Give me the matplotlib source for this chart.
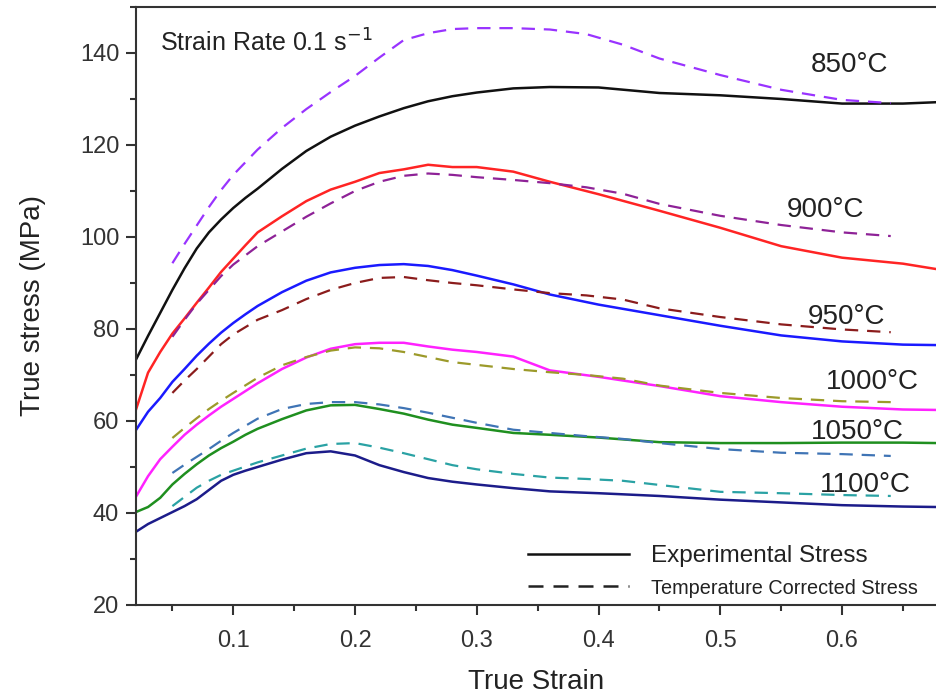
import matplotlib
matplotlib.use("Agg")
import matplotlib.pyplot as plt
from matplotlib.lines import Line2D
from matplotlib.ticker import MultipleLocator

plt.rcParams['font.family'] = ['Liberation Sans', 'DejaVu Sans']

# strain values for the experimental curves
strain_exp = [0.02, 0.03, 0.04, 0.05, 0.06, 0.07, 0.08, 0.09, 0.10, 0.11, 0.12, 0.14, 0.16, 0.18,
              0.20, 0.22, 0.24, 0.26, 0.28, 0.30, 0.33, 0.36, 0.40, 0.45, 0.50, 0.55, 0.60, 0.65, 0.678]

exp_850 = [73.3, 78.5, 83.5, 88.5, 93.2, 97.5, 101.0, 103.8, 106.3, 108.5, 110.5, 114.8, 118.7, 121.8,
           124.2, 126.2, 128.0, 129.5, 130.6, 131.4, 132.3, 132.6, 132.5, 131.3, 130.8, 130.0, 129.0, 129.0, 129.3]
exp_900 = [62.4, 70.5, 75.0, 79.0, 82.3, 85.7, 89.0, 92.4, 95.3, 98.2, 101.0, 104.5, 107.8, 110.3,
           112.0, 113.9, 114.7, 115.7, 115.2, 115.2, 114.2, 112.0, 109.3, 105.7, 102.0, 98.0, 95.5, 94.2, 93.0]
exp_950 = [58.0, 62.0, 65.0, 68.5, 71.3, 74.2, 76.8, 79.2, 81.3, 83.2, 85.0, 88.0, 90.5, 92.3,
           93.3, 93.9, 94.1, 93.7, 92.8, 91.6, 89.7, 87.5, 85.3, 83.0, 80.7, 78.6, 77.3, 76.6, 76.5]
exp_1000 = [43.5, 48.0, 51.7, 54.4, 57.0, 59.2, 61.2, 63.1, 64.8, 66.5, 68.2, 71.3, 73.8, 75.7,
            76.7, 77.0, 77.0, 76.2, 75.5, 75.0, 74.0, 71.0, 69.6, 67.6, 65.4, 64.1, 63.1, 62.5, 62.4]
exp_1050 = [40.2, 41.3, 43.3, 46.2, 48.5, 50.6, 52.5, 54.1, 55.5, 57.0, 58.3, 60.4, 62.3, 63.4,
            63.5, 62.6, 61.6, 60.3, 59.2, 58.5, 57.4, 57.0, 56.4, 55.4, 55.2, 55.2, 55.3, 55.3, 55.2]
exp_1100 = [35.9, 37.6, 38.9, 40.2, 41.5, 43.0, 45.0, 47.0, 48.3, 49.2, 50.0, 51.6, 53.0, 53.4,
            52.5, 50.4, 48.9, 47.6, 46.8, 46.2, 45.4, 44.7, 44.3, 43.7, 42.9, 42.3, 41.7, 41.4, 41.3]

# strain values for the temperature corrected curves
strain_cor = [0.05, 0.06, 0.07, 0.08, 0.09, 0.10, 0.12, 0.14, 0.16, 0.18, 0.20, 0.22, 0.24,
              0.26, 0.28, 0.30, 0.33, 0.36, 0.39, 0.42, 0.45, 0.50, 0.55, 0.60, 0.64]

cor_850 = [94.3, 98.5, 102.5, 106.5, 110.2, 113.5, 119.0, 123.7, 127.8, 131.5, 135.0, 139.0, 142.8,
           144.3, 145.2, 145.4, 145.4, 145.1, 144.1, 141.8, 138.8, 135.2, 132.0, 129.8, 129.1]
cor_900 = [78.3, 82.0, 85.5, 88.5, 91.5, 94.0, 98.0, 101.2, 104.4, 107.3, 110.0, 112.0, 113.3,
           113.8, 113.5, 113.0, 112.4, 111.7, 110.8, 109.4, 107.2, 104.6, 102.6, 101.0, 100.2]
cor_950 = [66.1, 68.8, 71.3, 74.0, 76.7, 78.8, 82.0, 84.1, 86.5, 88.5, 90.0, 91.1, 91.3,
           90.6, 90.0, 89.5, 88.6, 87.8, 87.3, 86.4, 84.5, 82.6, 81.0, 79.9, 79.3]
cor_1000 = [56.3, 58.5, 60.6, 62.6, 64.4, 66.1, 69.4, 72.1, 73.9, 75.3, 76.0, 75.8, 75.0,
            73.9, 72.8, 72.2, 71.3, 70.6, 70.0, 69.2, 67.7, 66.1, 65.0, 64.3, 64.1]
cor_1050 = [48.7, 50.5, 52.2, 53.9, 55.7, 57.4, 60.5, 62.6, 63.7, 64.1, 64.1, 63.6, 62.8,
            61.8, 60.7, 59.6, 58.1, 57.4, 56.7, 56.1, 55.2, 53.9, 53.1, 52.8, 52.4]
cor_1100 = [41.5, 43.5, 45.5, 47.0, 48.3, 49.2, 51.0, 52.5, 54.0, 55.0, 55.2, 54.2, 53.0,
            51.7, 50.4, 49.5, 48.5, 47.7, 47.4, 47.0, 46.1, 44.6, 44.3, 43.9, 43.7]

temps = ["850", "900", "950", "1000", "1050", "1100"]
exp_curves = [exp_850, exp_900, exp_950, exp_1000, exp_1050, exp_1100]
cor_curves = [cor_850, cor_900, cor_950, cor_1000, cor_1050, cor_1100]
exp_colors = ["#111111", "#ff2424", "#1a1aff", "#ff22ff", "#1f8f1f", "#1c1c8a"]
cor_colors = ["#9933ff", "#8e2297", "#8b1c1c", "#9c9a2a", "#3f74b5", "#2aa2a4"]

# label positions (strain, stress) for the temperature labels
label_x = [0.574, 0.555, 0.572, 0.587, 0.574, 0.582]
label_y = [137.4, 105.9, 82.6, 68.5, 57.6, 46.1]

fig = plt.figure(figsize=(9.37, 6.97), dpi=100)
ax = fig.add_axes([0.145, 0.132, 0.855, 0.858])

for i in range(len(temps)):
    ax.plot(strain_exp, exp_curves[i], color=exp_colors[i], lw=1.8, solid_joinstyle='round')
    ax.plot(strain_cor, cor_curves[i], color=cor_colors[i], lw=1.6, dashes=(6, 4))
    ax.text(label_x[i], label_y[i], temps[i] + "°C", fontsize=20, color="#222222",
            ha='left', va='center')

ax.text(0.0395, 142.2, "Strain Rate 0.1 s$^{-1}$", fontsize=18, color="#222222",
        ha='left', va='center')

ax.set_xlim(0.02, 0.678)
ax.set_ylim(20, 150)
ax.xaxis.set_major_locator(MultipleLocator(0.1))
ax.xaxis.set_minor_locator(MultipleLocator(0.05))
ax.yaxis.set_minor_locator(MultipleLocator(10))
ax.set_yticks([20, 40, 60, 80, 100, 120, 140])
ax.tick_params(which='major', direction='out', length=7, width=1.5, labelsize=17,
               colors="#333333", pad=5)
ax.tick_params(which='minor', direction='out', length=4, width=1.5, colors="#333333")
ax.tick_params(axis='x', pad=11)
for side in ['left', 'bottom', 'top']:
    ax.spines[side].set_linewidth(1.5)
    ax.spines[side].set_color("#333333")
ax.spines['right'].set_visible(False)

ax.set_xlabel("True Strain", fontsize=20, color="#222222", labelpad=12)
ax.set_ylabel("True stress (MPa)", fontsize=20, color="#222222", labelpad=24)

handles = [Line2D([], [], color="#111111", lw=1.8),
           Line2D([], [], color="#222222", lw=1.8, dashes=(6, 4))]
leg = ax.legend(handles, ["Experimental Stress", "Temperature Corrected Stress"],
                loc='lower left', bbox_to_anchor=(0.462, -0.025), frameon=False,
                fontsize=17.5, handlelength=4.15, handletextpad=0.9, labelspacing=0.4)
leg.get_texts()[1].set_fontsize(14.3)
for t in leg.get_texts():
    t.set_color("#222222")

fig.savefig("out.png", dpi=100)
